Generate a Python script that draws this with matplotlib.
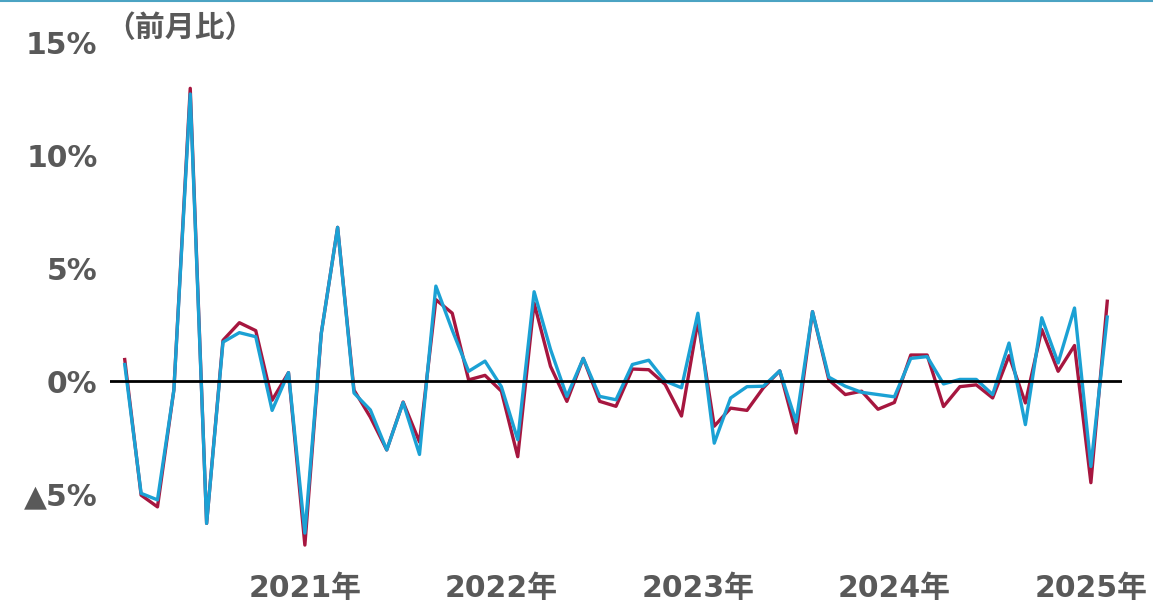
import numpy as np
import matplotlib
matplotlib.use("Agg")
import matplotlib.pyplot as plt
from matplotlib.lines import Line2D

plt.rcParams['font.family'] = ['DejaVu Sans', 'Noto Sans CJK JP']

# monthly change (%), 61 months
months = np.arange(61)
series_red = [0.95, -5.05, -5.57, -0.4, 12.95, -6.3, 1.8, 2.58, 2.23, -0.85, 0.37, -7.26,
              2.1, 6.8, -0.4, -1.6, -3.05, -0.93, -2.7, 3.6, 3.0, 0.05, 0.25, -0.45,
              -3.35, 3.45, 0.65, -0.9, 1.0, -0.9, -1.12, 0.53, 0.5, -0.15, -1.55, 2.65,
              -2.0, -1.2, -1.3, -0.3, 0.45, -2.3, 3.07, 0.05, -0.6, -0.45, -1.25, -0.95,
              1.15, 1.15, -1.13, -0.25, -0.17, -0.75, 1.12, -0.97, 2.28, 0.43, 1.57, -4.5,
              3.53]
series_blue = [0.73, -4.97, -5.26, -0.4, 12.7, -6.3, 1.72, 2.14, 1.96, -1.3, 0.37, -6.73,
               2.1, 6.8, -0.53, -1.28, -3.05, -0.95, -3.25, 4.2, 2.25, 0.43, 0.88, -0.25,
               -2.6, 3.95, 1.4, -0.68, 1.0, -0.68, -0.83, 0.73, 0.92, 0.0, -0.3, 3.0,
               -2.75, -0.75, -0.25, -0.23, 0.45, -1.8, 3.07, 0.17, -0.23, -0.5, -0.6, -0.7,
               1.0, 1.08, -0.13, 0.07, 0.07, -0.6, 1.68, -1.93, 2.8, 0.8, 3.23, -3.78,
               2.83]

year_pos = [11, 23, 35, 47, 59]
year_labels = ["2021年", "2022年", "2023年", "2024年", "2025年"]
ytick_vals = [-5, 0, 5, 10, 15]
ytick_labels = ["▲5%", "0%", "5%", "10%", "15%"]

grey = "#595959"

fig = plt.figure(figsize=(11.53, 6.03), dpi=100)
ax = fig.add_axes([110 / 1153, 1 - 550.5 / 603, 1012 / 1153, 513 / 603])

ax.plot(months, series_red, color="#A6163F", lw=2.4, zorder=2)
ax.plot(months, series_blue, color="#1BA1D4", lw=2.4, zorder=3)
ax.axhline(0, color="black", lw=2.0, zorder=4)

ax.set_xlim(-0.9, 60.9)
ax.set_ylim(-7.5, 15.2)

ax.set_xticks(year_pos)
ax.set_xticklabels(year_labels)
ax.set_yticks(ytick_vals)
ax.set_yticklabels(ytick_labels)
ax.tick_params(axis="both", length=0, labelsize=21.5, labelcolor=grey)
ax.tick_params(axis="x", pad=17)
ax.tick_params(axis="y", pad=9)
for lab in ax.get_xticklabels() + ax.get_yticklabels():
    lab.set_fontweight("bold")

for s in ax.spines.values():
    s.set_visible(False)

fig.text(180 / 1153, 1 - 29 / 603, "（前月比）", ha="center", va="center",
         fontsize=21.5, fontweight="bold", color=grey)

# thin frame line at the top edge
fig.add_artist(Line2D([0, 1], [0.999, 0.999], color="#4BA3C3", lw=1.5,
                      transform=fig.transFigure))

fig.savefig("out.png", dpi=100)
